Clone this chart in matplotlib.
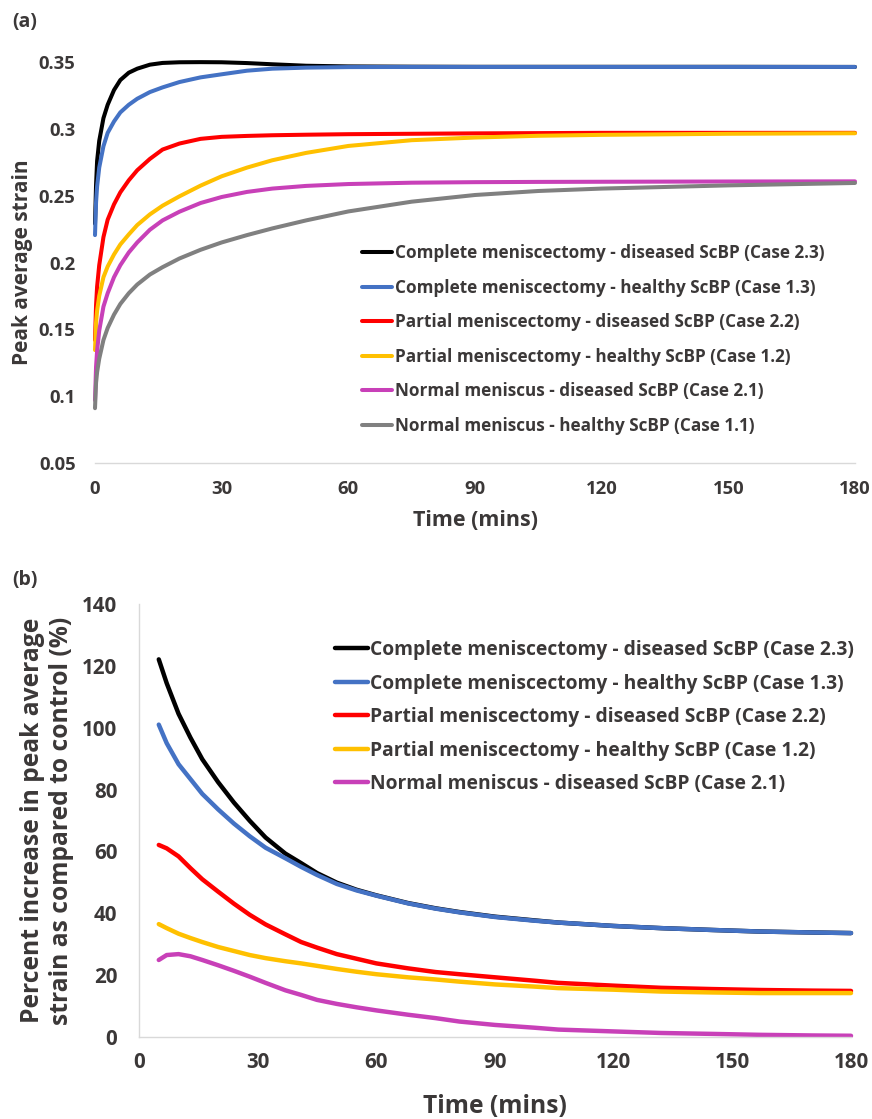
import matplotlib
matplotlib.use('Agg')
import matplotlib.pyplot as plt

plt.rcParams['font.family'] = ['Open Sans', 'DejaVu Sans']
plt.rcParams['font.weight'] = 'bold'
plt.rcParams['axes.labelweight'] = 'bold'
TXT = '#3b3838'

# ---- panel (a): peak average strain vs time ----
t_a = [0, 0.25, 0.5, 1, 2, 3, 4.5, 6, 8, 10, 13, 16, 20, 25, 30, 36, 42, 50, 60, 75, 90, 105, 120, 150, 180]

a_cm_dis = [0.229, 0.258, 0.276, 0.291, 0.308, 0.318, 0.329, 0.3365, 0.342, 0.345, 0.348, 0.3493, 0.3498, 0.3499,
            0.3498, 0.3492, 0.3483, 0.3472, 0.3467, 0.3465, 0.3464, 0.3464, 0.3464, 0.3464, 0.3463]
a_cm_hea = [0.2205, 0.245, 0.257, 0.271, 0.287, 0.297, 0.3055, 0.3123, 0.318, 0.3225, 0.3275, 0.331, 0.335, 0.3385,
            0.3408, 0.3435, 0.345, 0.3458, 0.3462, 0.3463, 0.3463, 0.3463, 0.3463, 0.3463, 0.3463]
a_pm_dis = [0.142, 0.168, 0.182, 0.198, 0.219, 0.232, 0.2435, 0.2525, 0.2615, 0.269, 0.2775, 0.2845, 0.289, 0.2925,
            0.294, 0.2947, 0.2952, 0.2956, 0.296, 0.2963, 0.2966, 0.2968, 0.297, 0.297, 0.297]
a_pm_hea = [0.1345, 0.155, 0.164, 0.175, 0.189, 0.197, 0.206, 0.2135, 0.221, 0.228, 0.236, 0.2425, 0.2495, 0.2575,
            0.2645, 0.271, 0.2765, 0.282, 0.2872, 0.2915, 0.2935, 0.2948, 0.2955, 0.2963, 0.2967]
a_nm_dis = [0.097, 0.122, 0.134, 0.149, 0.167, 0.177, 0.189, 0.198, 0.2075, 0.215, 0.2245, 0.2315, 0.238, 0.2445,
            0.249, 0.2528, 0.2553, 0.2573, 0.2587, 0.2597, 0.2601, 0.2603, 0.2604, 0.2606, 0.2607]
a_nm_hea = [0.091, 0.110, 0.118, 0.128, 0.142, 0.151, 0.161, 0.169, 0.177, 0.1835, 0.191, 0.1965, 0.203, 0.2095,
            0.215, 0.2205, 0.2255, 0.2315, 0.2382, 0.2455, 0.2505, 0.2535, 0.2553, 0.2577, 0.2595]

# ---- panel (b): percent increase vs control ----
t_b = [5, 7, 10, 13, 16, 20, 24, 28, 32, 37, 41, 45, 50, 55, 60, 68, 75, 81, 90, 100, 106, 120, 132, 145, 157, 170, 180]

b_cm_dis = [122.1, 114.4, 104.5, 96.8, 89.8, 82.4, 75.8, 69.9, 64.5, 59.3, 56.2, 53.0, 49.9, 47.6, 45.8, 43.3, 41.6,
            40.4, 38.9, 37.7, 37.0, 35.9, 35.2, 34.6, 34.1, 33.8, 33.6]
b_cm_hea = [101.0, 95.0, 88.2, 83.4, 78.6, 73.6, 69.0, 64.9, 61.2, 57.8, 55.0, 52.4, 49.5, 47.4, 45.7, 43.2, 41.5,
            40.3, 38.8, 37.6, 37.0, 35.9, 35.2, 34.6, 34.1, 33.8, 33.6]
b_pm_dis = [62.1, 61.0, 58.4, 54.6, 51.0, 47.0, 43.1, 39.5, 36.4, 33.2, 30.7, 28.9, 26.8, 25.3, 23.8, 22.2, 21.0,
            20.3, 19.3, 18.2, 17.5, 16.6, 15.9, 15.5, 15.2, 15.0, 14.9]
b_pm_hea = [36.5, 35.2, 33.4, 32.0, 30.7, 29.1, 27.8, 26.5, 25.5, 24.5, 23.8, 23.0, 22.0, 21.1, 20.3, 19.3, 18.6,
            17.9, 17.0, 16.3, 15.8, 15.3, 14.7, 14.4, 14.2, 14.2, 14.2]
b_nm_dis = [24.9, 26.5, 26.8, 26.1, 24.9, 23.2, 21.4, 19.5, 17.5, 15.1, 13.6, 12.0, 10.7, 9.6, 8.6, 7.2, 6.1,
            5.0, 3.9, 3.0, 2.4, 1.8, 1.3, 1.0, 0.7, 0.5, 0.4]

labels = ['Complete meniscectomy - diseased ScBP (Case 2.3)',
          'Complete meniscectomy - healthy ScBP (Case 1.3)',
          'Partial meniscectomy - diseased ScBP (Case 2.2)',
          'Partial meniscectomy - healthy ScBP (Case 1.2)',
          'Normal meniscus - diseased ScBP (Case 2.1)',
          'Normal meniscus - healthy ScBP (Case 1.1)']
colors = ['#000000', '#4472c4', '#ff0000', '#ffc000', '#c840b8', '#808080']

x_ticks = [0, 30, 60, 90, 120, 150, 180]
a_yticks = [0.05, 0.1, 0.15, 0.2, 0.25, 0.3, 0.35]
a_yticklabels = ['0.05', '0.1', '0.15', '0.2', '0.25', '0.3', '0.35']
b_yticks = [0, 20, 40, 60, 80, 100, 120, 140]

W, H = 872, 1119
fig = plt.figure(figsize=(W / 100, H / 100), dpi=100)


def px_axes(x0, y0, x1, y1):
    return fig.add_axes([x0 / W, 1 - y1 / H, (x1 - x0) / W, (y1 - y0) / H])


# panel a
ax1 = px_axes(95, 62, 855, 463)
series_a = [a_cm_dis, a_cm_hea, a_pm_dis, a_pm_hea, a_nm_dis, a_nm_hea]
for ys, c, lab in zip(series_a, colors, labels):
    ax1.plot(t_a, ys, color=c, lw=2.9, label=lab, clip_on=False,
             solid_capstyle='round', solid_joinstyle='round')
ax1.set_xlim(0, 180)
ax1.set_ylim(0.05, 0.35)
ax1.set_xticks(x_ticks)
ax1.set_yticks(a_yticks)
ax1.set_yticklabels(a_yticklabels)
for s in ['top', 'right', 'left']:
    ax1.spines[s].set_visible(False)
ax1.spines['bottom'].set_color('#d9d9d9')
ax1.spines['bottom'].set_linewidth(1)
ax1.tick_params(length=0, labelsize=13.3, labelcolor=TXT, pad=12)
ax1.tick_params(axis='y', pad=14)
ax1.set_xlabel('Time (mins)', fontsize=15.5, color=TXT, labelpad=9)
ax1.set_ylabel('Peak average strain', fontsize=15, color=TXT, labelpad=4)
leg1 = ax1.legend(loc='upper left', bbox_to_anchor=(362 / W, 1 - 244 / H), bbox_transform=fig.transFigure,
                  frameon=False, fontsize=12.3, handlelength=1.75, handletextpad=0.17,
                  labelspacing=0.97, borderpad=0, borderaxespad=0)
for tx in leg1.get_texts():
    tx.set_color(TXT)

# panel b
ax2 = px_axes(139, 604, 851, 1037)
series_b = [b_cm_dis, b_cm_hea, b_pm_dis, b_pm_hea, b_nm_dis]
for ys, c, lab in zip(series_b, colors, labels):
    ax2.plot(t_b, ys, color=c, lw=3.2, label=lab, clip_on=False,
             solid_capstyle='round', solid_joinstyle='round')
ax2.set_xlim(0, 180)
ax2.set_ylim(0, 140)
ax2.set_xticks(x_ticks)
ax2.set_yticks(b_yticks)
for s in ['top', 'right']:
    ax2.spines[s].set_visible(False)
for s in ['bottom', 'left']:
    ax2.spines[s].set_color('#d9d9d9')
    ax2.spines[s].set_linewidth(1)
ax2.tick_params(length=0, labelsize=14.8, labelcolor=TXT, pad=11)
ax2.tick_params(axis='y', pad=15.5)
ax2.set_xlabel('Time (mins)', fontsize=17.7, color=TXT, labelpad=15)
ax2.set_ylabel('Percent increase in peak average\nstrain as compared to control (%)',
               fontsize=17.7, color=TXT, labelpad=6, linespacing=1.2)
leg2 = ax2.legend(loc='upper left', bbox_to_anchor=(335 / W, 1 - 640 / H), bbox_transform=fig.transFigure,
                  frameon=False, fontsize=13.9, handlelength=1.7, handletextpad=0.1,
                  labelspacing=0.7, borderpad=0, borderaxespad=0)
for tx in leg2.get_texts():
    tx.set_color(TXT)

fig.text(12 / W, 1 - 22 / H, '(a)', fontsize=14, color=TXT, va='center')
fig.text(12 / W, 1 - 580 / H, '(b)', fontsize=14, color=TXT, va='center')

fig.savefig('out.png', dpi=100)
